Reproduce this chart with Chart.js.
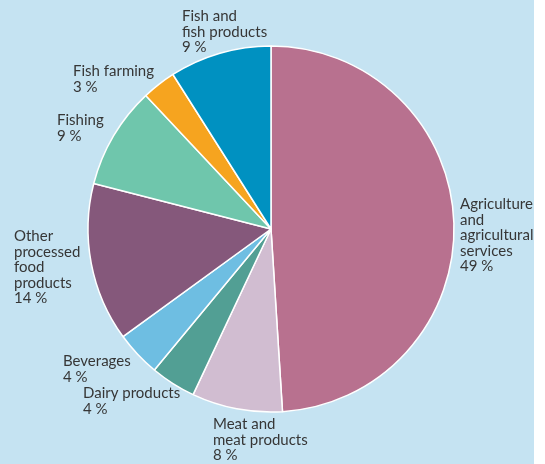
<!DOCTYPE html>
<html>
<head>
<meta charset="utf-8">
<script src="https://cdn.jsdelivr.net/npm/chart.js@4.4.1/dist/chart.umd.min.js"></script>
<style>
  html, body { margin: 0; padding: 0; background: #ffffff; overflow: hidden; }
  #wrap { position: relative; width: 545px; height: 464px; }
</style>
</head>
<body>
<div id="wrap"><canvas id="c" width="545" height="464"></canvas></div>
<script>
// Sectors, clockwise from 12 o'clock; multi-line names are stored as line arrays
const categories = [
  ['Agriculture', 'and', 'agricultural', 'services'],
  ['Meat and', 'meat products'],
  ['Dairy products'],
  ['Beverages'],
  ['Other', 'processed', 'food', 'products'],
  ['Fishing'],
  ['Fish farming'],
  ['Fish and', 'fish products']
];
const shares = [49, 8, 4, 4, 14, 9, 3, 9];
const sliceColours = ['#b8718f', '#d1bdd1', '#529f94', '#6ebee2', '#85587b', '#6fc6ac', '#f6a41f', '#0091c1'];

// Left edge and first baseline of each caption block
const captionAnchors = [[460, 209], [213, 429], [83, 398], [63, 366], [14, 241], [57, 125], [73, 76], [182, 21]];
const CAPTION_LINE = 15.6;

const panel = {
  id: 'panel',
  beforeDraw(chart) {
    const ctx = chart.ctx;
    ctx.save();
    ctx.fillStyle = '#ffffff';
    ctx.fillRect(0, 0, chart.width, chart.height);
    ctx.fillStyle = '#c5e3f2';
    ctx.fillRect(0, 0, 534, chart.height);
    ctx.restore();
  }
};

const captions = {
  id: 'captions',
  afterDatasetsDraw(chart) {
    const ctx = chart.ctx;
    ctx.save();
    ctx.font = '15px Lato';
    ctx.fillStyle = '#363636';
    ctx.textAlign = 'left';
    ctx.textBaseline = 'alphabetic';
    chart.data.labels.forEach((lines, i) => {
      const [x, y] = captionAnchors[i];
      const rows = lines.concat([shares[i] + ' %']);
      rows.forEach((t, k) => ctx.fillText(t, x, y + k * CAPTION_LINE));
    });
    ctx.restore();
  }
};

function draw() {
  new Chart(document.getElementById('c'), {
    type: 'pie',
    data: {
      labels: categories,
      datasets: [{
        data: shares,
        backgroundColor: sliceColours,
        borderColor: '#ffffff',
        borderWidth: 1.5
      }]
    },
    options: {
      responsive: false,
      devicePixelRatio: 1,
      animation: false,
      radius: 183,
      layout: { padding: { left: 88, top: 46, right: 91, bottom: 52 } },
      plugins: {
        legend: { display: false },
        tooltip: { enabled: false }
      }
    },
    plugins: [panel, captions]
  });
}

if (document.fonts && document.fonts.load) {
  document.fonts.load('15px Lato').then(draw, draw);
} else {
  draw();
}
</script>
</body>
</html>
